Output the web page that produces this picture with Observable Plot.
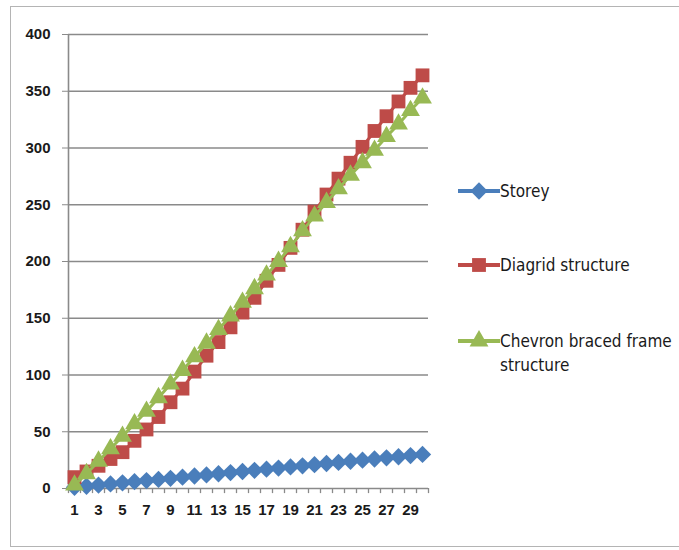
<!DOCTYPE html>
<html>
<head>
<meta charset="utf-8">
<script src="https://cdn.jsdelivr.net/npm/d3@7"></script>
<script src="https://cdn.jsdelivr.net/npm/@observablehq/plot@0.6"></script>
<style>
  html, body { margin: 0; padding: 0; background: #fff; }
  #wrap { position: relative; width: 679px; height: 550px; overflow: hidden; }
  #frame { position: absolute; left: 10px; top: 6px; width: 670px; height: 541px; border: 1.5px solid #b4b4b4; box-sizing: border-box; pointer-events: none; }
  #legend { position: absolute; left: 458px; top: 0; font-family: "DejaVu Sans Condensed", "DejaVu Sans", sans-serif; font-size: 17px; color: #1a1a1a; }
  .item { position: absolute; left: 0; display: flex; align-items: flex-start; white-space: nowrap; }
  .item svg { flex: none; }
  .item span { line-height: 24px; }
  #chart svg text { font-weight: bold; font-size: 15px !important; font-family: "Liberation Sans", Arial, sans-serif; }
</style>
</head>
<body>
<div id="wrap">
  <div id="chart"></div>
  <div id="legend"></div>
  <div id="frame"></div>
</div>
<script>
// ---- data ----
const storeys = d3.range(1, 31);               // category labels 1..30
const storeyValues = [1,2,3,4,5,6,7,8,9,10,11,12,13,14,15,16,17,18,19,20,21,22,23,24,25,26,27,28,29,30];
const diagridValues = [10,15,20,26,32,42,52,63,76,88,103,117,129,142,155,168,183,197,212,228,244,259,273,287,301,315,328,341,353,364];
const chevronValues = [3,13,24,35,46,57,68,80,92,104,116,128,140,152,164,176,188,200,213,227,240,252,264,276,287,298,310,321,333,344];
const yTicks = [0,50,100,150,200,250,300,350,400];
const xTickLabels = [1,3,5,7,9,11,13,15,17,19,21,23,25,27,29];

const seriesNames = ["Storey", "Diagrid structure", "Chevron braced frame\nstructure"];
const seriesValues = [storeyValues, diagridValues, chevronValues];
const colors = ["#4a7ebb", "#be4b48", "#98b954"];
const symbols = ["diamond2", "square", "triangle"];
const radii = [7.8, 7.8, 7.0];

const rows = seriesValues.map((vals, s) => storeys.map((x, i) => ({x, y: vals[i], s})));

const marks = [
  Plot.ruleY(yTicks, {stroke: "#8a8a8a", strokeWidth: 1.6}),
  Plot.ruleX([storeys[0] - 0.5], {stroke: "#8a8a8a", strokeWidth: 1.6}),
  Plot.ruleX(storeys.concat([storeys.length + 1]).map(d => d - 0.5), {y1: 0, y2: -4.5, stroke: "#8a8a8a", strokeWidth: 1.3}),
  Plot.axisY({ticks: yTicks, tickSize: 6, tickPadding: 12, stroke: "#8a8a8a", label: null}),
  Plot.axisX({ticks: xTickLabels, tickSize: 0, tickPadding: 16, label: null})
];
rows.forEach((data, s) => {
  marks.push(Plot.line(data, {x: "x", y: "y", stroke: colors[s], strokeWidth: 3}));
  marks.push(Plot.dot(data, {x: "x", y: "y", symbol: symbols[s], fill: colors[s], stroke: "none", r: radii[s]}));
});

const chart = Plot.plot({
  width: 679,
  height: 550,
  marginLeft: 68,
  marginRight: 251,
  marginTop: 34,
  marginBottom: 62,
  style: {fontFamily: "Liberation Sans, Arial, sans-serif", fontSize: "15px", color: "#1a1a1a", background: "transparent"},
  x: {type: "linear", domain: [0.5, 30.5], axis: null},
  y: {domain: [0, 400], axis: null},
  marks
});
document.getElementById("chart").appendChild(chart);

// ---- legend ----
const legend = document.getElementById("legend");
const legendTops = [191, 265, 341];
seriesNames.forEach((name, s) => {
  const item = document.createElement("div");
  item.className = "item";
  item.style.top = (legendTops[s] - 12) + "px";
  const w = 42, h = 24;
  const svg = d3.create("svg").attr("width", w).attr("height", h);
  svg.append("line").attr("x1", 0).attr("x2", w).attr("y1", h/2).attr("y2", h/2)
     .attr("stroke", colors[s]).attr("stroke-width", 4);
  const sym = {diamond2: d3.symbolDiamond2, square: d3.symbolSquare, triangle: d3.symbolTriangle}[symbols[s]];
  svg.append("path").attr("d", d3.symbol(sym, Math.PI * radii[s] * radii[s])())
     .attr("transform", `translate(${w/2},${h/2})`).attr("fill", colors[s]);
  item.appendChild(svg.node());
  const span = document.createElement("span");
  span.innerHTML = name.replace("\n", "<br>");
  item.appendChild(span);
  legend.appendChild(item);
});
</script>
</body>
</html>
